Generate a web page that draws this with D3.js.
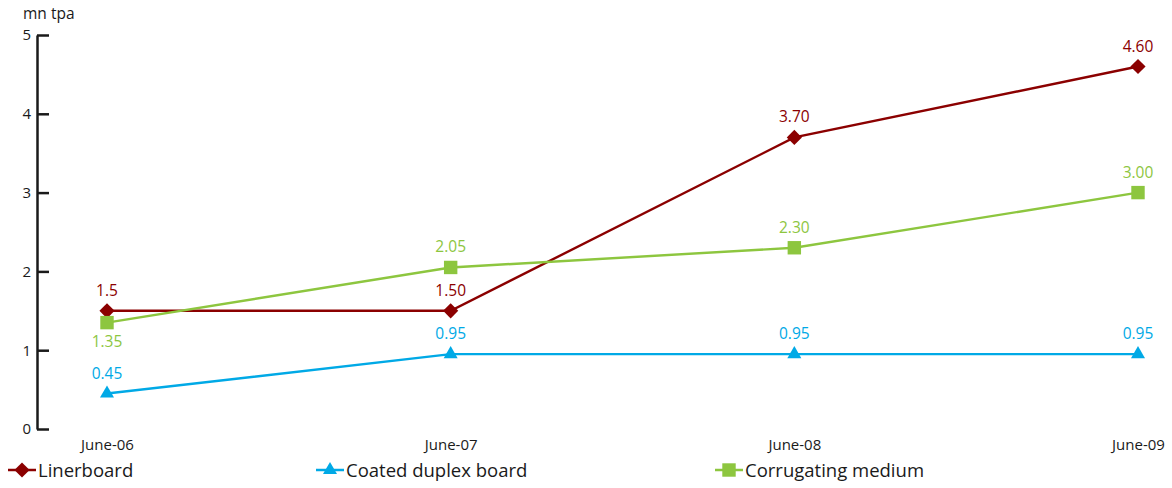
<!DOCTYPE html>
<html>
<head>
<meta charset="utf-8">
<script src="https://cdn.jsdelivr.net/npm/d3@7"></script>
<style>
  html, body { margin: 0; padding: 0; background: #fff; }
  text { font-family: "Open Sans", "Noto Sans", sans-serif; }
</style>
</head>
<body>
<svg id="chart" width="1172" height="488"></svg>
<script>
// Capacity by year, million tonnes per annum
const periods = ["June-06", "June-07", "June-08", "June-09"];
const linerboard = [1.5, 1.5, 3.7, 4.6];
const linerboardLabels = ["1.5", "1.50", "3.70", "4.60"];
const coatedDuplex = [0.45, 0.95, 0.95, 0.95];
const coatedDuplexLabels = ["0.45", "0.95", "0.95", "0.95"];
const corrugating = [1.35, 2.05, 2.3, 3.0];
const corrugatingLabels = ["1.35", "2.05", "2.30", "3.00"];
const yTicks = [0, 1, 2, 3, 4, 5];

const series = [
  { name: "Linerboard", values: linerboard, labels: linerboardLabels, color: "#8b0000", symbol: d3.symbolSquare, size: 115, rotate: 45, below: [] },
  { name: "Coated duplex board", values: coatedDuplex, labels: coatedDuplexLabels, color: "#00a9e6", symbol: d3.symbolTriangle, size: 85, rotate: 0, below: [] },
  { name: "Corrugating medium", values: corrugating, labels: corrugatingLabels, color: "#8dc63f", symbol: d3.symbolSquare, size: 180, rotate: 0, below: [0] }
];

const svg = d3.select("#chart");

const x = d3.scalePoint().domain(periods).range([107, 1138]);
const y = d3.scaleLinear().domain([0, 5]).range([429, 35]);

// y axis with ticks pointing into the plot
const yAxis = svg.append("g")
  .attr("transform", "translate(37,0)")
  .call(d3.axisLeft(y).tickValues(yTicks).tickFormat(d3.format("d")).tickSize(-12).tickSizeOuter(0));
yAxis.select(".domain").attr("stroke", "#1a1a1a").attr("stroke-width", 2.5);
yAxis.selectAll(".tick line").attr("stroke", "#1a1a1a").attr("stroke-width", 2.5);
yAxis.selectAll(".tick text")
  .attr("x", -6)
  .attr("fill", "#1a1a1a")
  .style("font-size", "15px")
  .style("font-family", "'Open Sans', 'Noto Sans', sans-serif");

svg.append("text")
  .attr("x", 23).attr("y", 19)
  .attr("fill", "#1a1a1a")
  .style("font-size", "15.5px")
  .text("mn tpa");

// x category labels
const xAxis = svg.append("g")
  .attr("transform", "translate(0,429)")
  .call(d3.axisBottom(x).tickSize(0).tickPadding(10));
xAxis.select(".domain").remove();
xAxis.selectAll(".tick text")
  .attr("fill", "#1a1a1a")
  .style("font-size", "15px")
  .style("font-family", "'Open Sans', 'Noto Sans', sans-serif");

const line = d3.line()
  .x((d, i) => x(periods[i]))
  .y(d => y(d));

series.forEach(s => {
  const g = svg.append("g");
  g.append("path")
    .datum(s.values)
    .attr("fill", "none")
    .attr("stroke", s.color)
    .attr("stroke-width", 2.4)
    .attr("d", line);
  g.selectAll("path.marker")
    .data(s.values)
    .join("path")
    .attr("class", "marker")
    .attr("transform", (d, i) => `translate(${x(periods[i])},${y(d)}) rotate(${s.rotate})`)
    .attr("d", d3.symbol().type(s.symbol).size(s.size))
    .attr("fill", s.color);
  g.selectAll("text.value")
    .data(s.values)
    .join("text")
    .attr("class", "value")
    .attr("x", (d, i) => x(periods[i]))
    .attr("y", (d, i) => s.below.includes(i) ? y(d) + 24 : y(d) - 15)
    .attr("text-anchor", "middle")
    .attr("fill", s.color)
    .style("font-size", "15.5px")
    .text((d, i) => s.labels[i]);
});

// legend
const legendX = [8, 316, 715];
series.forEach((s, i) => {
  const g = svg.append("g").attr("transform", `translate(${legendX[i]},470)`);
  g.append("line")
    .attr("x1", 0).attr("x2", 28)
    .attr("stroke", s.color).attr("stroke-width", 2.5);
  g.append("path")
    .attr("transform", `translate(14,0) rotate(${s.rotate})`)
    .attr("d", d3.symbol().type(s.symbol).size(s.size))
    .attr("fill", s.color);
  g.append("text")
    .attr("x", 30).attr("y", 7)
    .attr("fill", "#1a1a1a")
    .style("font-size", "18.5px")
    .text(s.name);
});
</script>
</body>
</html>
